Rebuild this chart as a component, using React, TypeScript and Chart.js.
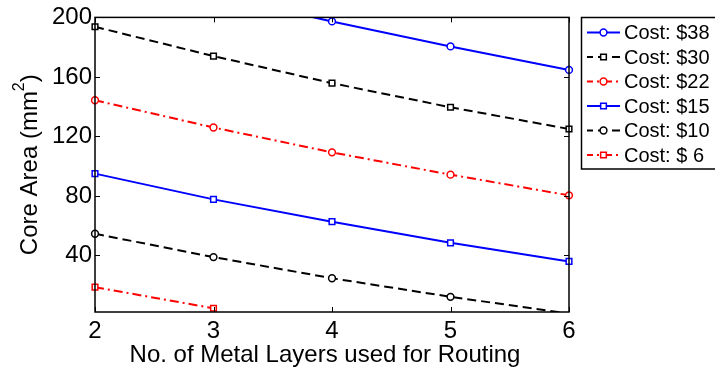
import React, { useEffect, useRef } from "react";
import { Chart, registerables } from "chart.js";

Chart.register(...registerables);

// ---- data ----
const metalLayers = [2, 3, 4, 5, 6];
const xTicks = [2, 3, 4, 5, 6];
const yTicks = [40, 80, 120, 160, 200];
const yMin = 2;
const yMax = 200;

const costLabels = ["Cost: $38", "Cost: $30", "Cost: $22", "Cost: $15", "Cost: $10", "Cost: $ 6"];
const area38 = [234, 215, 197.3, 180.5, 164.7];
const area30 = [193.7, 174, 155.8, 139.6, 125];
const area22 = [144.3, 126, 109.3, 94.3, 80.4];
const area15 = [95, 77.7, 62.7, 48.5, 36];
const area10 = [54.6, 38.9, 24.7, 12.2, 1];
const area6 = [18.7, 4.5, null, null, null];

const xTitle = "No. of Metal Layers used for Routing";
const yTitleMain = "Core Area (mm";
const yTitleSup = "2";
const yTitleEnd = ")";

// ---- styles ----
const FONT = "'Liberation Sans', Arial, Helvetica, sans-serif";
const BLUE = "#0000ff";
const RED = "#ff0000";
const BLACK = "#000000";
const SOLID: number[] = [];
const DASHED = [9, 5];
const DASHDOT = [9, 4, 2, 4];

type Series = { label: string; values: (number | null)[]; color: string; dash: number[]; marker: "circle" | "rect" };

const series: Series[] = [
  { label: costLabels[0], values: area38, color: BLUE, dash: SOLID, marker: "circle" },
  { label: costLabels[1], values: area30, color: BLACK, dash: DASHED, marker: "rect" },
  { label: costLabels[2], values: area22, color: RED, dash: DASHDOT, marker: "circle" },
  { label: costLabels[3], values: area15, color: BLUE, dash: SOLID, marker: "rect" },
  { label: costLabels[4], values: area10, color: BLACK, dash: DASHED, marker: "circle" },
  { label: costLabels[5], values: area6, color: RED, dash: DASHDOT, marker: "rect" },
];

const CIRCLE_R = 3.4;
const RECT_R = 4.0;
const TICK = 5;

function drawMarker(ctx: CanvasRenderingContext2D, kind: string, x: number, y: number, color: string) {
  ctx.save();
  ctx.setLineDash([]);
  ctx.strokeStyle = color;
  ctx.lineWidth = 1.5;
  ctx.fillStyle = "#ffffff";
  ctx.beginPath();
  if (kind === "circle") {
    ctx.arc(x, y, CIRCLE_R, 0, Math.PI * 2);
  } else {
    const s = RECT_R * Math.SQRT1_2;
    ctx.rect(x - s, y - s, 2 * s, 2 * s);
  }
  ctx.fill();
  ctx.stroke();
  ctx.restore();
}

const framePlugin = {
  id: "frameAndLegend",
  beforeDraw(chart: any) {
    const { ctx, width, height } = chart;
    ctx.save();
    ctx.fillStyle = "#ffffff";
    ctx.fillRect(0, 0, width, height);
    ctx.restore();
  },
  afterDraw(chart: any) {
    const { ctx, chartArea: a, scales } = chart;
    const xs = scales.x;
    const ys = scales.y;
    ctx.save();
    ctx.setLineDash([]);
    ctx.strokeStyle = BLACK;

    // axes box
    ctx.lineWidth = 1.5;
    ctx.strokeRect(a.left, a.top, a.right - a.left, a.bottom - a.top);

    // inward tick marks on all four sides
    ctx.lineWidth = 1;
    ctx.beginPath();
    for (const v of xTicks) {
      const px = Math.round(xs.getPixelForValue(v)) + 0.5;
      ctx.moveTo(px, a.bottom);
      ctx.lineTo(px, a.bottom - TICK);
      ctx.moveTo(px, a.top);
      ctx.lineTo(px, a.top + TICK);
    }
    for (const v of yTicks) {
      const py = Math.round(ys.getPixelForValue(v)) + 0.5;
      ctx.moveTo(a.left, py);
      ctx.lineTo(a.left + TICK, py);
      ctx.moveTo(a.right, py);
      ctx.lineTo(a.right - TICK, py);
    }
    ctx.stroke();

    // x axis title
    ctx.fillStyle = BLACK;
    ctx.font = `24px ${FONT}`;
    ctx.textAlign = "center";
    ctx.textBaseline = "alphabetic";
    ctx.fillText(xTitle, 325, 361.5);

    // y axis title with superscript
    ctx.save();
    ctx.translate(37, (a.top + a.bottom) / 2);
    ctx.rotate(-Math.PI / 2);
    ctx.font = `24px ${FONT}`;
    const wMain = ctx.measureText(yTitleMain).width;
    const wEnd = ctx.measureText(yTitleEnd).width;
    ctx.font = `16px ${FONT}`;
    const wSup = ctx.measureText(yTitleSup).width;
    const total = wMain + wSup + wEnd;
    let cx = -total / 2;
    ctx.textAlign = "left";
    ctx.font = `24px ${FONT}`;
    ctx.fillText(yTitleMain, cx, 0);
    cx += wMain;
    ctx.font = `16px ${FONT}`;
    ctx.fillText(yTitleSup, cx, -13);
    cx += wSup;
    ctx.font = `24px ${FONT}`;
    ctx.fillText(yTitleEnd, cx, 0);
    ctx.restore();

    // legend box
    const lx = 581.5;
    const ly = 17.5;
    ctx.fillStyle = "#ffffff";
    ctx.fillRect(lx, ly, 200, 151.5);
    ctx.lineWidth = 1.5;
    ctx.strokeStyle = BLACK;
    ctx.strokeRect(lx, ly, 200, 151.5);

    ctx.font = `20px ${FONT}`;
    ctx.textAlign = "left";
    ctx.textBaseline = "middle";
    series.forEach((s, i) => {
      const y = 32.5 + i * 24.5;
      ctx.save();
      ctx.strokeStyle = s.color;
      ctx.lineWidth = 2;
      ctx.setLineDash(s.dash);
      ctx.lineDashOffset = s.dash.length ? 3 : 0;
      ctx.beginPath();
      ctx.moveTo(587, y);
      ctx.lineTo(620, y);
      ctx.stroke();
      ctx.restore();
      drawMarker(ctx, s.marker, 603.5, y, s.color);
      ctx.fillStyle = BLACK;
      ctx.fillText(s.label, 624, y + 1);
    });

    ctx.restore();
  },
};

export default function App() {
  const canvasRef = useRef<HTMLCanvasElement | null>(null);

  useEffect(() => {
    const canvas = canvasRef.current;
    if (!canvas) return;

    const inRange = (ctx: any) => {
      const v = ctx.parsed ? ctx.parsed.y : null;
      return v !== null && v !== undefined && v >= yMin && v <= yMax;
    };

    const datasets = series.map((s) => ({
      label: s.label,
      data: metalLayers.map((x, i) => ({ x, y: s.values[i] })),
      borderColor: s.color,
      backgroundColor: "#ffffff",
      borderWidth: 2,
      borderDash: s.dash,
      pointStyle: s.marker,
      pointRadius: (ctx: any) => (inRange(ctx) ? (s.marker === "circle" ? CIRCLE_R : RECT_R) : 0),
      pointBorderWidth: 1.5,
      pointBorderColor: s.color,
      pointBackgroundColor: "#ffffff",
      pointHoverRadius: 0,
      tension: 0,
      spanGaps: false,
      clip: { left: 10, right: 10, top: 0, bottom: 0 },
    }));

    const chart = new Chart(canvas, {
      type: "line",
      data: { datasets },
      options: {
        animation: false,
        responsive: false,
        devicePixelRatio: 1,
        events: [],
        layout: { padding: { left: 0, top: 17, right: 146, bottom: 0 } },
        plugins: {
          legend: { display: false },
          tooltip: { enabled: false },
        },
        scales: {
          x: {
            type: "linear",
            min: 2,
            max: 6,
            grid: { display: false, drawTicks: false },
            border: { display: false },
            ticks: {
              color: BLACK,
              font: { family: FONT, size: 24 },
              padding: 5,
              maxRotation: 0,
            },
            afterBuildTicks: (scale: any) => {
              scale.ticks = xTicks.map((v) => ({ value: v }));
            },
            afterFit: (scale: any) => {
              scale.height = 61;
            },
          },
          y: {
            type: "linear",
            min: yMin,
            max: yMax,
            grid: { display: false, drawTicks: false },
            border: { display: false },
            ticks: {
              color: BLACK,
              font: { family: FONT, size: 24 },
              padding: 3,
            },
            afterBuildTicks: (scale: any) => {
              scale.ticks = yTicks.map((v) => ({ value: v }));
            },
            afterFit: (scale: any) => {
              scale.width = 95;
            },
          },
        },
      },
      plugins: [framePlugin],
    });

    return () => chart.destroy();
  }, []);

  return (
    <div style={{ position: "fixed", left: 0, top: 0, width: 715, height: 373, background: "#ffffff" }}>
      <canvas ref={canvasRef} width={715} height={373} style={{ display: "block", width: 715, height: 373 }} />
    </div>
  );
}
